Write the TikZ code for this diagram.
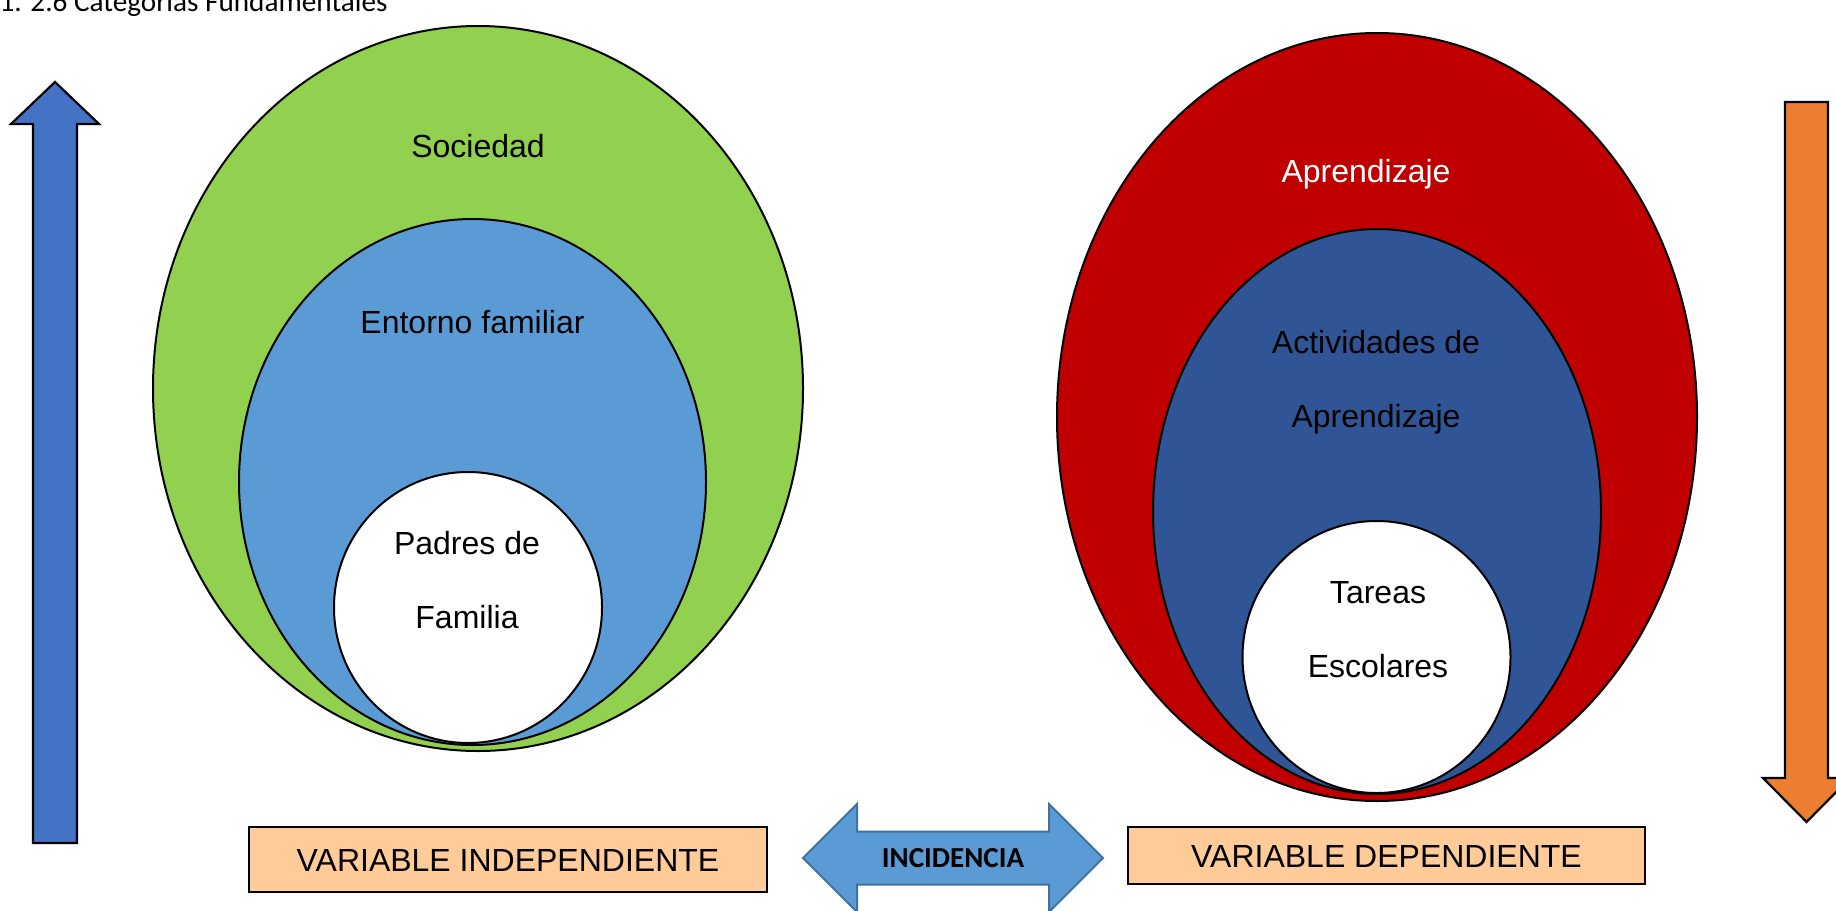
\documentclass[tikz,border=0pt]{standalone}
\usepackage{fontspec}
\setmainfont{Liberation Sans}
\newfontfamily\calib{Carlito}
\definecolor{cgreen}{HTML}{92D050}
\definecolor{cblue}{HTML}{5B9BD5}
\definecolor{cred}{HTML}{C00000}
\definecolor{cdblue}{HTML}{2F5597}
\definecolor{corange}{HTML}{ED7D31}
\definecolor{carrow}{HTML}{4472C4}
\definecolor{cpeach}{HTML}{FFCC99}
\definecolor{cstroke}{HTML}{41719C}
\tikzset{
  ring/.style={draw=black, line width=1pt},
  lbl/.style={font=\fontsize{16}{19}\selectfont, inner sep=0pt, anchor=base},
  varbox/.style={draw=black, line width=1.1pt, fill=cpeach},
  bigarrow/.style={draw=black, line width=1.1pt, line join=miter}
}
\begin{document}
\begin{tikzpicture}[x=0.5pt,y=-0.5pt]
\useasboundingbox (0,0) rectangle (1836,910);
\clip (0,0) rectangle (1836,910);

% title
\node[inner sep=0pt, anchor=base east, font=\calib\fontsize{14.6}{17}\selectfont] (title) at (388,11.5) {1. 2.6 Categorías Fundamentales};

% left nested ellipses
\draw[ring, fill=cgreen] (478,388.5) ellipse [x radius=325, y radius=362.5];
\draw[ring, fill=cblue] (472.5,482) ellipse [x radius=233.5, y radius=263];
\draw[ring, fill=white] (468,607.5) ellipse [x radius=134, y radius=135.5];

% right nested ellipses
\draw[ring, fill=cred] (1377,417) ellipse [x radius=320, y radius=384];
\draw[ring, fill=cdblue] (1377,511.5) ellipse [x radius=224, y radius=282.5];
\draw[ring, fill=white] (1376.5,657) ellipse [x radius=134, y radius=136];

% labels
\node[lbl] (soc) at (478,157) {Sociedad};
\node[lbl] (ent) at (472.5,333) {Entorno familiar};
\node[lbl] (pad1) at (467,554) {Padres de};
\node[lbl] (pad2) at (467,628) {Familia};
\node[lbl, text=white] (apr) at (1366,182) {Aprendizaje};
\node[lbl] (act1) at (1376,353) {Actividades de};
\node[lbl] (act2) at (1376,427) {Aprendizaje};
\node[lbl] (tar1) at (1378,603) {Tareas};
\node[lbl] (tar2) at (1378,677) {Escolares};

% left up arrow
\draw[bigarrow, fill=carrow] (55,82) -- (99,124) -- (77,124) -- (77,843) -- (33,843) -- (33,124) -- (11,124) -- cycle;

% right down arrow
\draw[bigarrow, fill=corange] (1806.5,822) -- (1850,778) -- (1828,778) -- (1828,102) -- (1785,102) -- (1785,778) -- (1763,778) -- cycle;

% variable boxes
\draw[varbox] (249,827) rectangle (767,892);
\node[lbl, anchor=center] (vi) at (508,860) {VARIABLE INDEPENDIENTE};
\draw[varbox] (1128,827) rectangle (1645,884);
\node[lbl, anchor=center] (vd) at (1386.5,856) {VARIABLE DEPENDIENTE};

% double arrow
\draw[draw=cstroke, line width=1pt, fill=cblue, line join=miter]
  (803,858) -- (857,804) -- (857,831.5) -- (1049,831.5) -- (1049,804) -- (1103,858)
  -- (1049,912) -- (1049,884.5) -- (857,884.5) -- (857,912) -- cycle;
\node[inner sep=0pt, font=\calib\bfseries\fontsize{14.5}{17}\selectfont] (inc) at (953,858) {INCIDENCIA};
\end{tikzpicture}
\end{document}
